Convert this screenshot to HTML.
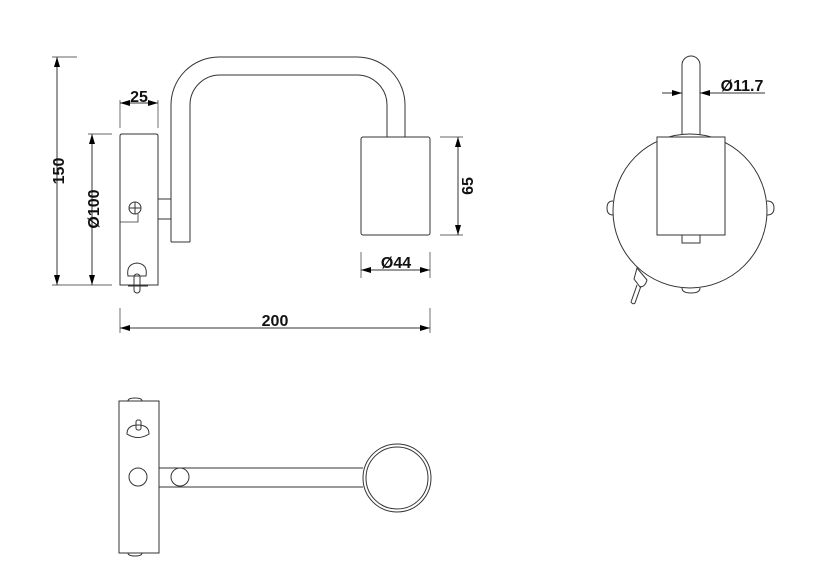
<!DOCTYPE html>
<html><head><meta charset="utf-8"><style>
html,body{margin:0;padding:0;background:#fff;}
svg{display:block;}
text{font-family:"Liberation Sans",Arial,sans-serif;font-size:16px;font-weight:bold;fill:#111;}
</style></head><body>
<svg width="828" height="569" viewBox="0 0 828 569" xmlns="http://www.w3.org/2000/svg">
<defs>
<marker id="a" viewBox="0 0 10 6" refX="10" refY="3" markerWidth="10" markerHeight="6" orient="auto-start-reverse" markerUnits="userSpaceOnUse"><path d="M0,0 L10,3 L0,6 z" fill="#000"/></marker>
</defs>
<g fill="none" stroke="#333" stroke-width="1">
<line x1="57" y1="57" x2="57" y2="285" marker-start="url(#a)" marker-end="url(#a)"/>
<line x1="52" y1="57" x2="77" y2="57" stroke-width="0.7"/>
<line x1="52" y1="285" x2="112" y2="285" stroke-width="0.7"/>
<line x1="120" y1="103" x2="158" y2="103" marker-start="url(#a)" marker-end="url(#a)"/>
<line x1="120" y1="100" x2="120" y2="128" stroke-width="0.7"/>
<line x1="158" y1="100" x2="158" y2="128" stroke-width="0.7"/>
<line x1="92" y1="134" x2="92" y2="285" marker-start="url(#a)" marker-end="url(#a)"/>
<line x1="88" y1="134" x2="112" y2="134" stroke-width="0.7"/>
<path d="M120,285 V136 Q120,134 122,134 H156 Q158,134 158,136 V285 Z"/>
<rect x="158" y="199" width="13" height="20"/>
<circle cx="135" cy="208" r="6"/>
<line x1="129" y1="208" x2="141" y2="208"/><line x1="135" y1="202" x2="135" y2="214"/>
<path d="M120,222 H138 V214" stroke-width="0.8"/>
<path d="M128,276 Q126,264 137,263 Q148,264 146,276 Z"/>
<rect x="134" y="274" width="6" height="19" rx="3"/>
<line x1="128" y1="286" x2="148" y2="286"/>
<path d="M171,242 V105 A48,48 0 0 1 219,57 H357 A48,48 0 0 1 405,105 V137"/>
<path d="M190,242 V105 A30,30 0 0 1 220,75 H357 A30,30 0 0 1 387,105 V137"/>
<line x1="171" y1="242" x2="190" y2="242"/>
<rect x="361" y="137" width="69" height="98" rx="2"/>
<line x1="361" y1="270" x2="430" y2="270" marker-start="url(#a)" marker-end="url(#a)"/>
<line x1="361" y1="252" x2="361" y2="278" stroke-width="0.7"/>
<line x1="430" y1="252" x2="430" y2="278" stroke-width="0.7"/>
<line x1="458" y1="137" x2="458" y2="235" marker-start="url(#a)" marker-end="url(#a)"/>
<line x1="440" y1="137" x2="463" y2="137" stroke-width="0.7"/>
<line x1="440" y1="235" x2="463" y2="235" stroke-width="0.7"/>
<line x1="120" y1="328" x2="430" y2="328" marker-start="url(#a)" marker-end="url(#a)"/>
<line x1="120" y1="308" x2="120" y2="333" stroke-width="0.7"/>
<line x1="430" y1="308" x2="430" y2="333" stroke-width="0.7"/>

<circle cx="690" cy="211" r="77"/>
<path d="M682,135 V65 A9,9 0 0 1 700,65 V135"/>
<rect x="657" y="137" width="68" height="98" fill="#fff"/>
<rect x="682" y="235" width="18" height="8"/>
<path d="M613,201 Q607,201 607,208 Q607,215 613,215"/>
<path d="M767,201 Q774,201 774,208 Q774,215 767,215"/>
<path d="M682,288 Q682,293 691,293 Q700,293 700,288"/>
<path d="M637,268 L647,280 Q645,287 640,287 L634,279 Z"/>
<path d="M637,285 L631,302 Q633,305 635,303 L641,286"/>
<line x1="662" y1="93" x2="682" y2="93" marker-end="url(#a)"/>
<line x1="720" y1="93" x2="700" y2="93" marker-end="url(#a)"/>
<line x1="720" y1="93" x2="765" y2="93"/>

<rect x="119" y="401" width="40" height="152"/>
<path d="M128,401 Q128,398 135,398 Q142,398 142,401"/>
<path d="M128,553 Q128,556 135,556 Q142,556 142,553"/>
<path d="M127,434 Q127,425 138,425 Q149,425 149,434 Q138,441 127,434 Z"/>
<rect x="136" y="420" width="5" height="10" rx="2"/>
<circle cx="138" cy="477" r="9"/>
<line x1="159" y1="468" x2="363" y2="468"/>
<line x1="159" y1="487" x2="363" y2="487"/>
<circle cx="180" cy="477" r="9" fill="#fff"/>
<circle cx="397" cy="478" r="34" fill="#fff"/>
<circle cx="397" cy="478" r="31"/>
</g>
<text x="139" y="102" text-anchor="middle">25</text>
<text transform="translate(64,171) rotate(-90)" text-anchor="middle">150</text>
<text transform="translate(99,209) rotate(-90)" text-anchor="middle">Ø100</text>
<text transform="translate(473,186) rotate(-90)" text-anchor="middle">65</text>
<text x="396" y="268" text-anchor="middle">Ø44</text>
<text x="275" y="326" text-anchor="middle">200</text>
<text x="742" y="91" text-anchor="middle">Ø11.7</text>
</svg>
</body></html>
